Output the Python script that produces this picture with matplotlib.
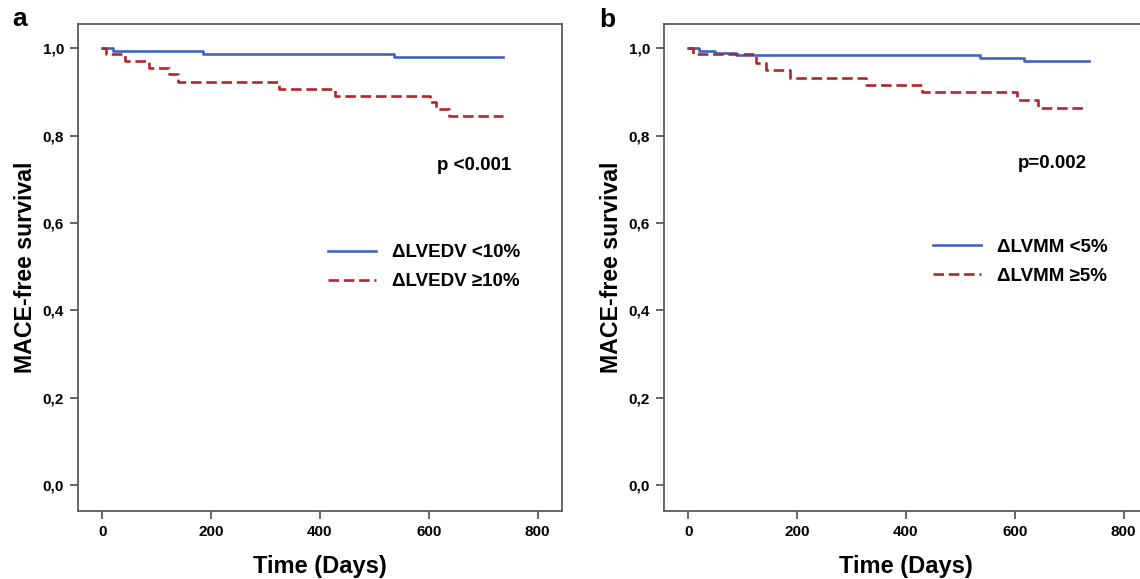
import matplotlib
matplotlib.use("Agg")
import matplotlib.pyplot as plt

# ---- data ----
a_low_t = [0, 19, 185, 536, 737]
a_low_s = [1.0, 0.993, 0.988, 0.981, 0.981]
a_high_t = [0, 7, 42, 85, 122, 139, 325, 428, 603, 613, 638, 737]
a_high_s = [1.0, 0.986, 0.970, 0.954, 0.941, 0.922, 0.906, 0.891, 0.876, 0.861, 0.846, 0.846]

b_low_t = [0, 20, 49, 88, 537, 617, 737]
b_low_s = [1.0, 0.995, 0.990, 0.984, 0.977, 0.971, 0.971]
b_high_t = [0, 9, 125, 142, 186, 327, 430, 605, 642, 729]
b_high_s = [1.0, 0.986, 0.967, 0.950, 0.932, 0.916, 0.899, 0.881, 0.863, 0.863]

x_ticks = [0, 200, 400, 600, 800]
y_ticks = [0.0, 0.2, 0.4, 0.6, 0.8, 1.0]
y_ticklabels = ["0,0", "0,2", "0,4", "0,6", "0,8", "1,0"]

a_labels = ["\u0394LVEDV <10%", "\u0394LVEDV \u226510%"]
b_labels = ["\u0394LVMM <5%", "\u0394LVMM \u22655%"]
a_p = "p <0.001"
b_p = "p=0.002"

plt.rcParams['font.family'] = ['Liberation Sans', 'DejaVu Sans']
plt.rcParams['font.weight'] = 'bold'

W, H = 1140, 579
fig = plt.figure(figsize=(W / 100, H / 100), dpi=100)

BLUE = "#4262C2"
RED = "#B3252A"
SPINE = "#5a5a5a"


def make_ax(left_px):
    l = left_px / W
    b = (H - 511) / H
    w = 484 / W
    h = (511 - 24) / H
    return fig.add_axes([l, b, w, h])


def style(ax, low_t, low_s, high_t, high_s, labels, ptxt, leg_xy, p_xy):
    ax.step(low_t, low_s, where='post', color=BLUE, lw=1.9, label=labels[0])
    ax.step(high_t, high_s, where='post', color=RED, lw=1.9, dashes=(4, 1.8), label=labels[1])
    ax.set_xlim(-44.7, 845)
    ax.set_ylim(-0.0595, 1.0557)
    ax.set_xticks(x_ticks)
    ax.set_xticklabels([str(v) for v in x_ticks])
    ax.set_yticks(y_ticks)
    ax.set_yticklabels(y_ticklabels)
    for s in ax.spines.values():
        s.set_color(SPINE)
        s.set_linewidth(1.3)
    ax.tick_params(direction='out', length=6, width=1.3, color=SPINE, labelsize=11, pad=4)
    for lab in ax.get_xticklabels() + ax.get_yticklabels():
        lab.set_fontweight('bold')
    ax.set_xlabel("Time (Days)", fontsize=17, fontweight='bold')
    ax.set_ylabel("MACE-free survival", fontsize=16.7, fontweight='bold')
    ax.xaxis.set_label_coords(0.5, -0.091)
    ax.yaxis.set_label_coords(-0.084, 0.5)
    ax.legend(loc='center left', bbox_to_anchor=leg_xy, frameon=False,
              handlelength=2.56, handletextpad=0.85,
              borderpad=0, borderaxespad=0, labelspacing=0.62,
              prop={'weight': 'bold', 'size': 13.5})
    ax.text(p_xy[0], p_xy[1], ptxt, transform=ax.transAxes, fontsize=13.5,
            fontweight='bold', ha='left', va='center')


axa = make_ax(78)
style(axa, a_low_t, a_low_s, a_high_t, a_high_s, a_labels, a_p,
      ((328 - 78) / 484, (511 - 267.3) / 487), ((437 - 78) / 484, (511 - 165) / 487))
axb = make_ax(664)
style(axb, b_low_t, b_low_s, b_high_t, b_high_s, b_labels, b_p,
      ((933 - 664) / 484, (511 - 261.8) / 487), ((1018 - 664) / 484, (511 - 163) / 487))
axb.spines['right'].set_visible(False)

fig.text(12 / W, 1 - 19 / H, "a", fontsize=19, fontweight='bold', ha='left', va='center')
fig.text(599 / W, 1 - 20 / H, "b", fontsize=19, fontweight='bold', ha='left', va='center')

fig.savefig("out.png", dpi=100)
